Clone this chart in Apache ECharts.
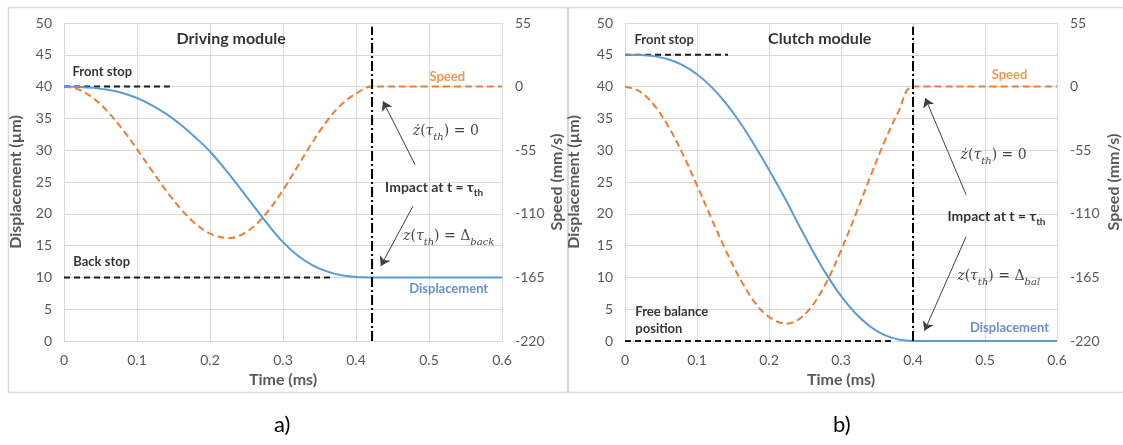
<!DOCTYPE html>
<html>
<head>
<meta charset="utf-8">
<script src="https://cdn.jsdelivr.net/npm/echarts@6/dist/echarts.min.js"></script>
<style>
html,body{margin:0;padding:0;background:#fff;}
#c{width:1123px;height:445px;}
</style>
</head>
<body>
<div id="c"></div>
<script>
// ---------- data ----------
const xTicks = [0, 0.1, 0.2, 0.3, 0.4, 0.5, 0.6];

// a) Driving module
const timeLeft  = [0, 0.02, 0.04, 0.06, 0.08, 0.1, 0.12, 0.14, 0.16, 0.18, 0.2, 0.225, 0.24, 0.26, 0.28, 0.3, 0.32, 0.34, 0.36, 0.38, 0.4, 0.422, 0.5, 0.6];
const dispLeft  = [40, 39.95, 39.8, 39.5, 39.0, 38.2, 37.1, 35.7, 34.0, 32.0, 29.8, 26.4, 24.2, 21.2, 18.24, 15.54, 13.44, 11.94, 10.94, 10.34, 10.06, 10.0, 10, 10];
const speedLeft = [0, -2.5, -10.0, -21.7, -36.8, -54.1, -72.3, -90.0, -105.8, -118.5, -127.1, -131, -129.1, -121.0, -107.3, -89.5, -69.1, -48.5, -30.0, -15.5, -6.0, 0, 0, 0];
const leftFrontStopT = [0, 0.145];
const leftFrontStopZ = 40;
const leftBackStopT = [0, 0.37];
const leftBackStopZ = 10;
const leftImpactT = 0.422;

// b) Clutch module
const timeRight  = [0, 0.02, 0.04, 0.06, 0.08, 0.1, 0.12, 0.14, 0.16, 0.18, 0.2, 0.224, 0.24, 0.26, 0.28, 0.3, 0.32, 0.34, 0.36, 0.38, 0.4, 0.5, 0.6];
const dispRight  = [45, 44.97, 44.79, 44.30, 43.38, 41.95, 39.96, 37.40, 34.31, 30.75, 26.92, 22.04, 18.53, 14.32, 10.44, 7.09, 4.37, 2.33, 0.96, 0.22, 0, 0, 0];
const speedRight = [0, -4.0, -15.7, -34.2, -58.0, -85.4, -114.0, -141.7, -166.4, -186.4, -199.2, -205, -201.9, -189.6, -168.9, -141.9, -111.1, -79.0, -48.3, -21.4, 0, 0, 0];
const rightFrontStopT = [0, 0.143];
const rightFrontStopZ = 45;
const rightBalanceT = [0, 0.37];
const rightBalanceZ = 0;
const rightImpactT = 0.4;

// ---------- styles ----------
const FONT = 'Lato, "Open Sans", sans-serif';
const MATH = '"DejaVu Serif", serif';
const GRAY = '#595959';
const GRID = '#d9d9d9';
const BLUE = '#5B9BD5';
const ORANGE = '#ED7D31';

const zip = (t, v) => t.map((x, i) => [x, v[i]]);
const hline = (t, z) => t.map(x => [x, z]);

const rich = {
  i: {fontFamily: MATH, fontStyle: 'italic', fontSize: 14, lineHeight: 22, color: '#111'},
  u: {fontFamily: MATH, fontSize: 14, lineHeight: 22, color: '#111'},
  s: {fontFamily: MATH, fontStyle: 'italic', fontSize: 10, lineHeight: 14, verticalAlign: 'bottom', color: '#111'},
  b: {fontFamily: FONT, fontWeight: 'bold', fontSize: 14, lineHeight: 20, color: '#000'},
  bs: {fontFamily: FONT, fontWeight: 'bold', fontSize: 10, lineHeight: 13, verticalAlign: 'bottom', color: '#000'}
};

function xAxis(g) {
  return {
    type: 'value', gridIndex: g, min: 0, max: 0.6, interval: 0.1,
    name: 'Time (ms)', nameLocation: 'middle', nameGap: 30,
    nameTextStyle: {fontFamily: FONT, fontWeight: 'bold', fontSize: 16, color: GRAY},
    axisLine: {lineStyle: {color: GRID}}, axisTick: {show: false},
    axisLabel: {color: GRAY, fontFamily: FONT, fontSize: 14, margin: 12},
    splitLine: {show: true, lineStyle: {color: GRID}}
  };
}
function dispAxis(g, gap) {
  return {
    type: 'value', gridIndex: g, position: 'left', min: 0, max: 50, interval: 5,
    name: 'Displacement (µm)', nameLocation: 'middle', nameGap: gap, nameRotate: 90,
    nameTextStyle: {fontFamily: FONT, fontWeight: 'bold', fontSize: 16, color: GRAY},
    axisLine: {show: false}, axisTick: {show: false},
    axisLabel: {color: GRAY, fontFamily: FONT, fontSize: 14, margin: 12},
    splitLine: {show: true, lineStyle: {color: GRID}}
  };
}
function speedAxis(g, gap) {
  return {
    type: 'value', gridIndex: g, position: 'right', min: -220, max: 55, interval: 55,
    name: 'Speed (mm/s)', nameLocation: 'middle', nameGap: gap, nameRotate: 90,
    nameTextStyle: {fontFamily: FONT, fontWeight: 'bold', fontSize: 16, color: GRAY},
    axisLine: {show: false}, axisTick: {show: false},
    axisLabel: {color: GRAY, fontFamily: FONT, fontSize: 14, margin: 13},
    splitLine: {show: false}
  };
}

function dashed(x, y, data) {
  return {type: 'line', xAxisIndex: x, yAxisIndex: y, data, symbol: 'none', silent: true,
    lineStyle: {color: '#1a1a1a', width: 2, type: [6, 4]}, z: 2};
}
function impact(x, y, t) {
  return {type: 'line', xAxisIndex: x, yAxisIndex: y, data: [[t, 0], [t, 49.4]], symbol: 'none', silent: true,
    lineStyle: {color: '#000', width: 2, type: [10, 3, 2, 3]}, z: 5};
}
function arrows(x, y, segs) {
  return {type: 'lines', coordinateSystem: 'cartesian2d', xAxisIndex: x, yAxisIndex: y,
    symbol: ['none', 'arrow'], symbolSize: 9, silent: true,
    lineStyle: {color: '#404040', width: 1, opacity: 1, curveness: 0},
    data: segs.map(s => ({coords: s})), z: 6};
}
function texts(x, y, items) {
  return {type: 'scatter', xAxisIndex: x, yAxisIndex: y, symbolSize: 1, silent: true,
    itemStyle: {color: 'rgba(0,0,0,0)'}, z: 7,
    label: {show: true, position: 'inside', rich},
    data: items.map(it => ({value: it.at, label: Object.assign({show: true, formatter: it.text, rich}, it.style)}))};
}
const bold = (size, color, pos) => ({fontFamily: FONT, fontWeight: 'bold', fontSize: size, color: color || '#000', position: pos || 'inside', distance: 0, lineHeight: size + 4});
const curve = (x, y, data, color, dash) => ({type: 'line', xAxisIndex: x, yAxisIndex: y, data, symbol: 'none', smooth: 0.35,
  lineStyle: {color, width: 2, type: dash ? [7, 4] : 'solid'}, z: dash ? 3 : 4});

const option = {
  animation: false,
  backgroundColor: '#fff',
  grid: [
    {left: 64, top: 23, width: 438, height: 318},
    {left: 625, top: 23, width: 437, height: 318}
  ],
  xAxis: [xAxis(0), xAxis(1)],
  yAxis: [dispAxis(0, 40), speedAxis(0, 47), dispAxis(1, 43), speedAxis(1, 49)],
  series: [
    // left
    dashed(0, 0, hline(leftFrontStopT, leftFrontStopZ)),
    dashed(0, 0, hline(leftBackStopT, leftBackStopZ)),
    curve(0, 1, zip(timeLeft, speedLeft), ORANGE, true),
    curve(0, 0, zip(timeLeft, dispLeft), BLUE, false),
    impact(0, 0, leftImpactT),
    arrows(0, 0, [
      [[0.481, 27.7], [0.437, 37.7]],
      [[0.478, 21.2], [0.434, 11.8]]
    ]),
    texts(0, 0, [
      {at: [0.229, 47.5], text: 'Driving module', style: bold(16)},
      {at: [0.011, 42.3], text: 'Front stop', style: bold(13, '#000', 'right')},
      {at: [0.012, 12.4], text: 'Back stop', style: bold(13, '#000', 'right')},
      {at: [0.525, 41.5], text: 'Speed', style: bold(13, ORANGE)},
      {at: [0.527, 8.2], text: 'Displacement', style: bold(13, '#4472C4')},
      {at: [0.523, 33.0], text: '{i|ż}{u|(}{i|τ}{s|th}{u|) = 0}', style: {}},
      {at: [0.507, 24.1], text: '{b|Impact at t = τ}{bs|th}', style: {}},
      {at: [0.527, 16.5], text: '{i|z}{u|(}{i|τ}{s|th}{u|) = Δ}{s|back}', style: {}}
    ]),
    // right
    dashed(1, 2, hline(rightFrontStopT, rightFrontStopZ)),
    dashed(1, 2, hline(rightBalanceT, rightBalanceZ)),
    curve(1, 3, zip(timeRight, speedRight), ORANGE, true),
    curve(1, 2, zip(timeRight, dispRight), BLUE, false),
    impact(1, 2, rightImpactT),
    arrows(1, 2, [
      [[0.4737, 23.0], [0.417, 38.2]],
      [[0.4737, 16.4], [0.416, 1.6]]
    ]),
    texts(1, 2, [
      {at: [0.2705, 47.5], text: 'Clutch module', style: bold(16)},
      {at: [0.0124, 47.3], text: 'Front stop', style: bold(13, '#000', 'right')},
      {at: [0.0137, 3.2], text: 'Free balance\nposition', style: Object.assign(bold(13, '#000', 'right'), {align: 'left'})},
      {at: [0.534, 41.8], text: 'Speed', style: bold(13, ORANGE)},
      {at: [0.534, 2.0], text: 'Displacement', style: bold(13, '#4472C4')},
      {at: [0.512, 29.2], text: '{i|ż}{u|(}{i|τ}{s|th}{u|) = 0}', style: {}},
      {at: [0.516, 19.5], text: '{b|Impact at t = τ}{bs|th}', style: {}},
      {at: [0.519, 10.1], text: '{i|z}{u|(}{i|τ}{s|th}{u|) = Δ}{s|bal}', style: {}}
    ])
  ],
  graphic: [
    {type: 'rect', shape: {x: 8.5, y: 7.5, width: 559, height: 385}, style: {fill: 'none', stroke: GRID, lineWidth: 1.5}, silent: true},
    {type: 'rect', shape: {x: 568.5, y: 7.5, width: 560, height: 385}, style: {fill: 'none', stroke: GRID, lineWidth: 1.5}, silent: true},
    {type: 'text', left: 274, top: 414, style: {text: 'a)', font: '22px ' + FONT, fill: '#000'}, silent: true},
    {type: 'text', left: 833, top: 414, style: {text: 'b)', font: '22px ' + FONT, fill: '#000'}, silent: true}
  ]
};

const chart = echarts.init(document.getElementById('c'), null, {renderer: 'canvas'});
chart.setOption(option);
</script>
</body>
</html>
